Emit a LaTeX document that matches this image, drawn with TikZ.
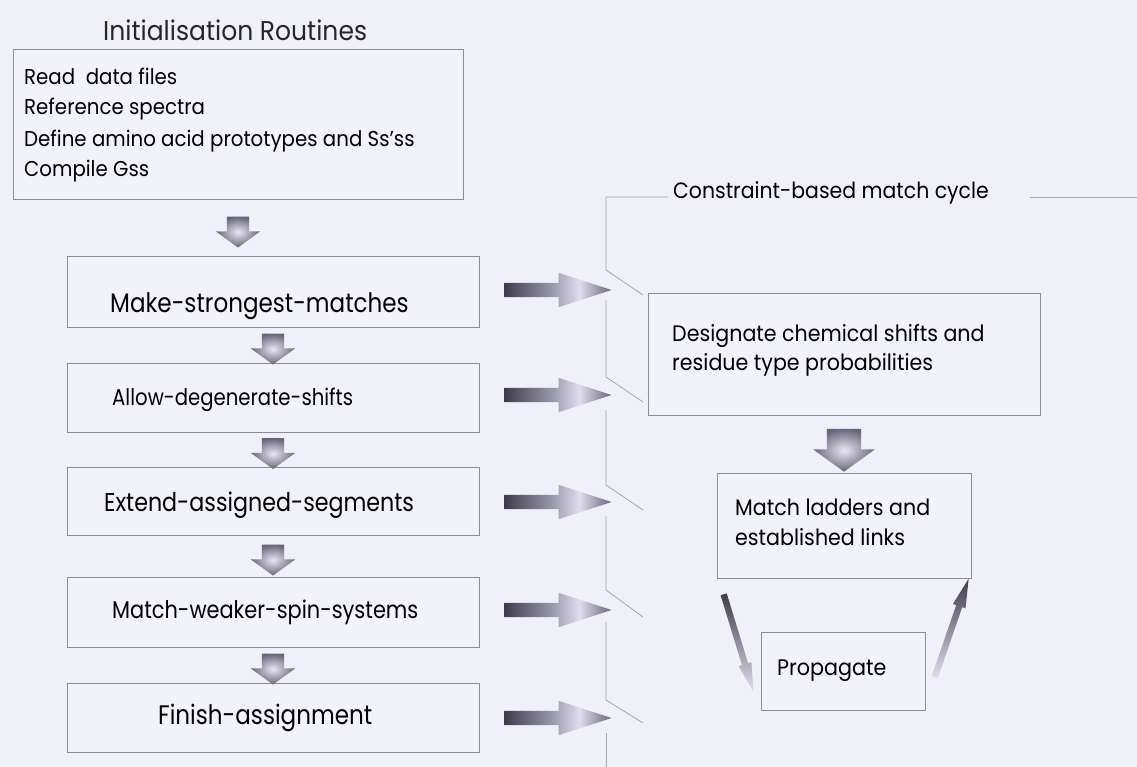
\documentclass[tikz,border=0pt]{standalone}
\usepackage{fontspec}
\setmainfont{Poppins}
\usetikzlibrary{shapes.arrows,calc,shadings}

\definecolor{bgc}{HTML}{F0F0F8}
\definecolor{boxline}{HTML}{8C8C98}
\definecolor{boxfill}{HTML}{F2F2FA}
\definecolor{bracketc}{HTML}{A4A4AE}
\definecolor{ad}{HTML}{3E3C4C}
\definecolor{am}{HTML}{9896AA}
\definecolor{al}{HTML}{E0DDEC}
\definecolor{at}{HTML}{66647A}

% horizontal shading for the block arrows that point right
\pgfdeclarehorizontalshading{rarrowshade}{100bp}{%
  color(0bp)=(ad); color(25bp)=(ad); color(47bp)=(am);
  color(60bp)=(al); color(75bp)=(at); color(100bp)=(at)}

% font size plus horizontal condensing
\newcommand\setfs[2]{\fontsize{#1}{#1}\selectfont\addfontfeature{FakeStretch=#2}}

\tikzset{
  box/.style={draw=boxline, line width=0.9pt, fill=boxfill, inner sep=0pt},
  txt/.style={anchor=base west, inner sep=0pt, text=black},
  rarrow/.style={single arrow, shading=rarrowshade, draw=none, inner xsep=0pt,
    inner ysep=7pt, minimum height=107, single arrow head extend=10pt,
    single arrow tip angle=36},
  darrow/.style={single arrow, rotate=-90, shading=radial, inner color=al!70!white,
    outer color=at, draw=none, inner xsep=0pt, inner ysep=11pt, minimum height=31,
    single arrow head extend=11pt, single arrow tip angle=108},
  bigdarrow/.style={darrow, inner ysep=17pt, minimum height=43,
    single arrow head extend=13.5pt},
  slantarrow/.style={single arrow, draw=none, inner xsep=0pt, inner ysep=3pt,
    single arrow head extend=3.5pt, single arrow tip angle=26,
    shading=axis, left color=ad, right color=al, shading angle=0},
  bracketline/.style={draw=bracketc, line width=0.8pt}
}

\begin{document}
\begin{tikzpicture}[x=1pt,y=-1pt]
\useasboundingbox (0,0) rectangle (1137,767);
\fill[bgc] (0,0) rectangle (1137,767);

% ---- initialisation block
\node[txt, font=\setfs{27.2}{0.92}, text=black!85] (title) at (103,41) {Initialisation Routines};
\node[box, minimum width=450, minimum height=150] (init) at (238,124) {};
\node[txt, font=\setfs{21.5}{0.92}] (l1) at (24,85)  {Read~ data files};
\node[txt, font=\setfs{21.5}{0.92}] (l2) at (24,115) {Reference spectra};
\node[txt, font=\setfs{21.5}{0.92}] (l3) at (24,147) {Define amino acid prototypes and Ss’ss};
\node[txt, font=\setfs{21.5}{0.92}] (l4) at (24,177) {Compile Gss};

% ---- assignment stages
\node[box, minimum width=412, minimum height=71] (b1) at (273,291.5) {};
\node[box, minimum width=412, minimum height=69] (b2) at (273,397.5) {};
\node[box, minimum width=412, minimum height=68] (b3) at (273,501) {};
\node[box, minimum width=412, minimum height=70] (b4) at (273,612) {};
\node[box, minimum width=412, minimum height=69] (b5) at (273,717.5) {};

\node[txt, font=\setfs{26.8}{0.86}] (t1) at (110,312) {Make-strongest-matches};
\node[txt, font=\setfs{22.9}{0.86}] (t2) at (112,405) {Allow-degenerate-shifts};
\node[txt, font=\setfs{25.8}{0.86}] (t3) at (104,511) {Extend-assigned-segments};
\node[txt, font=\setfs{24.3}{0.86}] (t4) at (112,618) {Match-weaker-spin-systems};
\node[txt, font=\setfs{26.8}{0.86}] (t5) at (158,724) {Finish-assignment};

% downward block arrows between stages
\node[darrow] (d0) at ($(init.south)+(0,28.5)$) {};
\node[darrow] (d1) at ($(b1.south)!0.5!(b2.north)$) {};
\node[darrow] (d2) at ($(b2.south)!0.5!(b3.north)$) {};
\node[darrow] (d3) at ($(b3.south)!0.5!(b4.north)$) {};
\node[darrow] (d4) at ($(b4.south)!0.5!(b5.north)$) {};

% block arrows into the match cycle
\node[rarrow] (r1) at ($(b1.east)+(67.5,-1.5)$) {};
\node[rarrow] (r2) at ($(b2.east)+(67.5,-2.5)$) {};
\node[rarrow] (r3) at ($(b3.east)+(67.5,1)$) {};
\node[rarrow] (r4) at ($(b4.east)+(67.5,-2)$) {};
\node[rarrow] (r5) at ($(b5.east)+(67.5,0.5)$) {};

% ---- constraint-based match cycle frame
\node[txt, font=\setfs{22.2}{0.92}] (cycle) at (673,199) {Constraint-based match cycle};
\path[bracketline] (668,197) -- (606,197) -- (606,270) -- (643,295);
\path[bracketline] (606,300) -- (606,377) -- (643,402);
\path[bracketline] (606,410) -- (606,485) -- (643,510);
\path[bracketline] (606,516) -- (606,590) -- (643,617);
\path[bracketline] (606,622) -- (606,700) -- (643,723);
\path[bracketline] (606,733) -- (606,767);
\path[bracketline] (1030,197) -- (1137,197);

\node[box, minimum width=392, minimum height=122] (des) at (844,354) {};
\node[txt, font=\setfs{22.4}{0.92}] (dt1) at (672,341) {Designate chemical shifts and};
\node[txt, font=\setfs{22.4}{0.92}] (dt2) at (672,370) {residue type probabilities};

\node[box, minimum width=254, minimum height=105] (match) at (844,525.5) {};
\node[txt, font=\setfs{22.4}{0.92}] (mt1) at (735,515) {Match ladders and};
\node[txt, font=\setfs{22.4}{0.92}] (mt2) at (735,545) {established links};

\node[bigdarrow] (dd) at ($(des.south)!0.5!(match.north)$) {};

\node[box, minimum width=164, minimum height=78] (prop) at (843,671) {};
\node[txt, font=\setfs{22.5}{0.92}] (pt) at (777,675) {Propagate};

% arrows of the propagate loop
\node[slantarrow, minimum height=102, rotate=-73] (sa1) at ($(match.south west)+(20,58)$) {};
\node[slantarrow, minimum height=104, rotate=71]  (sa2) at ($(match.south east)+(-22,56)$) {};
\end{tikzpicture}
\end{document}
